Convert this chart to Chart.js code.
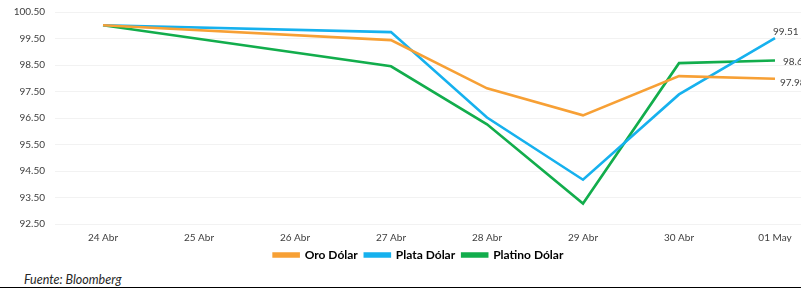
<!DOCTYPE html>
<html>
<head>
<meta charset="utf-8">
<script src="https://cdn.jsdelivr.net/npm/chart.js@4/dist/chart.umd.min.js"></script>
<style>
  body { margin: 0; background: #fff; width: 801px; height: 290px; overflow: hidden; position: relative; font-family: Lato, sans-serif; }
  #wrap { position: absolute; left: 0; top: 0; width: 836px; height: 271px; }
  #fuente { position: absolute; left: 24px; top: 272px; font-size: 12.5px; font-style: italic; color: #262626; }
  #rule { position: absolute; left: 0; top: 287px; width: 801px; height: 0; border-top: 1.5px solid #000; }
</style>
</head>
<body>
<div id="wrap"><canvas id="metalsChart"></canvas></div>
<div id="fuente">Fuente: Bloomberg</div>
<div id="rule"></div>
<script>
// 25 y 26 Abr sin cotización (fin de semana)
const fechas = ['24 Abr', '25 Abr', '26 Abr', '27 Abr', '28 Abr', '29 Abr', '30 Abr', '01 May'];
const oro     = [100, null, null, 99.44, 97.62, 96.60, 98.08, 97.98];
const plata   = [100, null, null, 99.74, 96.52, 94.17, 97.39, 99.51];
const platino = [100, null, null, 98.45, 96.26, 93.27, 98.57, 98.67];
const yTicks  = [92.5, 93.5, 94.5, 95.5, 96.5, 97.5, 98.5, 99.5, 100.5];

function toPoints(arr) {
    return arr.map((v, i) => ({ x: i, y: v }));
}

// etiqueta con el último valor de cada serie
const endLabels = {
    id: 'endLabels',
    afterDatasetsDraw(chart) {
        const ctx = chart.ctx;
        ctx.save();
        ctx.font = '10px Lato, sans-serif';
        ctx.fillStyle = '#404040';
        ctx.textBaseline = 'middle';
        chart.data.datasets.forEach((ds, i) => {
            const meta = chart.getDatasetMeta(i);
            const pt = meta.data[meta.data.length - 1];
            const v = ds.data[ds.data.length - 1].y;
            const off = ds.labelOffset;
            ctx.fillText(v.toFixed(2), pt.x + off[0], pt.y + off[1]);
        });
        ctx.restore();
    }
};

window.onload = function() {
    const ctx = document.getElementById('metalsChart').getContext('2d');
    new Chart(ctx, {
        type: 'line',
        data: {
            datasets: [{
                label: 'Oro Dólar',
                data: toPoints(oro),
                borderColor: '#F7A035',
                backgroundColor: '#F7A035',
                labelOffset: [5, 4]
            }, {
                label: 'Plata Dólar',
                data: toPoints(plata),
                borderColor: '#16B1EE',
                backgroundColor: '#16B1EE',
                labelOffset: [-2, -6]
            }, {
                label: 'Platino Dólar',
                data: toPoints(platino),
                borderColor: '#12AD4C',
                backgroundColor: '#12AD4C',
                labelOffset: [8, 1]
            }]
        },
        options: {
            responsive: true,
            maintainAspectRatio: false,
            animation: false,
            spanGaps: true,
            elements: {
                line: { borderWidth: 2.6, tension: 0 },
                point: { radius: 0 }
            },
            layout: { padding: { top: 12, left: 14, right: 13 } },
            scales: {
                x: {
                    type: 'linear',
                    min: -0.5,
                    max: 7.5,
                    grid: { display: false, drawTicks: false },
                    border: { display: false },
                    afterBuildTicks: s => { s.ticks = fechas.map((_, i) => ({ value: i })); },
                    afterFit: s => { s.height = 18; },
                    ticks: {
                        autoSkip: false,
                        maxRotation: 0,
                        padding: 8,
                        color: '#404040',
                        font: { family: 'Lato', size: 10 },
                        callback: v => fechas[v]
                    }
                },
                y: {
                    min: 92.5,
                    max: 100.5,
                    afterFit: s => { s.width = 41; },
                    afterBuildTicks: s => { s.ticks = yTicks.map(v => ({ value: v })); },
                    grid: { color: '#F2F2F2', drawTicks: true, tickLength: 10, tickColor: 'rgba(0,0,0,0)' },
                    border: { display: false },
                    ticks: {
                        padding: 0,
                        color: '#404040',
                        font: { family: 'Lato', size: 10 },
                        callback: v => v.toFixed(2)
                    }
                }
            },
            plugins: {
                legend: {
                    position: 'bottom',
                    labels: {
                        boxWidth: 25,
                        boxHeight: 3,
                        padding: 7,
                        color: '#000',
                        font: { family: 'Lato', size: 12, weight: 'bold' }
                    }
                },
                tooltip: { enabled: false }
            }
        },
        plugins: [endLabels]
    });
};
</script>
</body>
</html>
